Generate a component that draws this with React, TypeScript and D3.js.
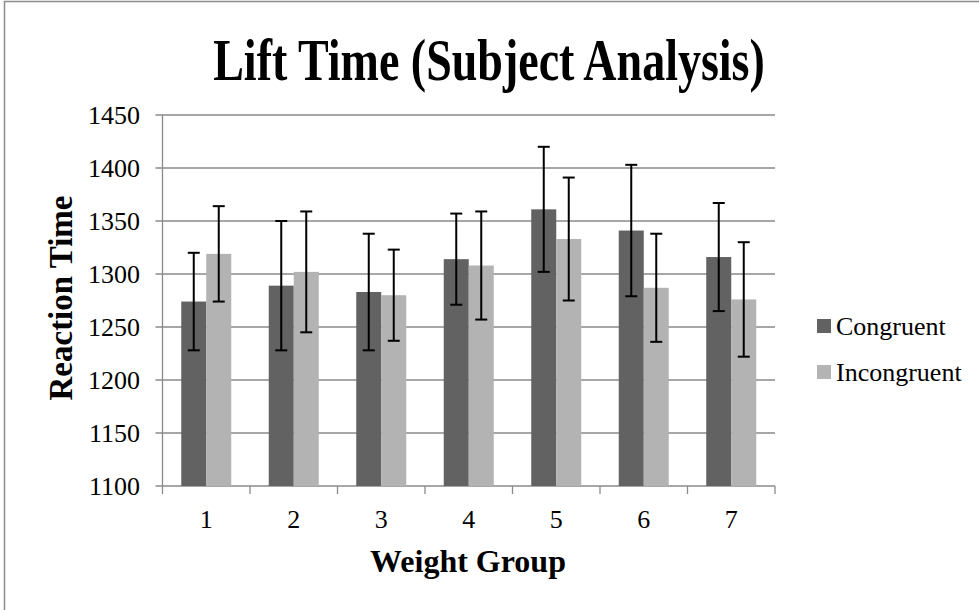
import React from "react";
import * as d3 from "d3";

const categories = ["1", "2", "3", "4", "5", "6", "7"];
const seriesNames = ["Congruent", "Incongruent"];
const congruent = [1274, 1289, 1283, 1314, 1361, 1341, 1316];
const incongruent = [1319, 1302, 1280, 1308, 1333, 1287, 1276];
const congruentErr = [46, 61, 55, 43, 59, 62, 51];
const incongruentErr = [45, 57, 43, 51, 58, 51, 54];
const yTicks = [1100, 1150, 1200, 1250, 1300, 1350, 1400, 1450];
const colors = ["#626262", "#b3b3b3"];

const W = 979;
const H = 610;
const M = { left: 162.5, right: 775, top: 115, bottom: 486 };
const FONT = "'Liberation Serif', 'Times New Roman', serif";
const GRID = "#8a8a8a";

export default function App() {
  const x0 = d3.scaleBand<string>().domain(categories).range([M.left, M.right]);
  const inner = d3
    .scaleBand<string>()
    .domain(seriesNames)
    .range([0, x0.bandwidth()])
    .paddingInner(0)
    .paddingOuter(0.75);
  const y = d3.scaleLinear().domain([1100, 1450]).range([M.bottom, M.top]);
  const values = [congruent, incongruent];
  const errs = [congruentErr, incongruentErr];
  const bw = inner.bandwidth();
  const tickEdges = categories.map((c) => x0(c)!).concat([M.right]);

  return (
    <svg width={W} height={H} style={{ display: "block", position: "absolute", left: 0, top: 0 }}>
      <rect x={0} y={0} width={W} height={H} fill="#ffffff" />
      <rect x={4.5} y={1.5} width={W + 20} height={H + 20} fill="none" stroke="#8c8c8c" strokeWidth={1.5} />
      <text
        transform="translate(489, 80) scale(0.78, 1)"
        textAnchor="middle"
        fontFamily={FONT}
        fontWeight="bold"
        fontSize={59}
      >
        Lift Time (Subject Analysis)
      </text>
      {yTicks.map((t) => (
        <g key={t}>
          <line x1={M.left - 7} x2={M.right} y1={y(t)} y2={y(t)} stroke={GRID} strokeWidth={1.3} />
          <text x={140} y={y(t)} dy="0.34em" textAnchor="end" fontFamily={FONT} fontSize={26}>
            {t}
          </text>
        </g>
      ))}
      <line x1={M.left} x2={M.left} y1={M.top} y2={M.bottom} stroke={GRID} strokeWidth={1.3} />
      {tickEdges.map((tx, i) => (
        <line key={i} x1={tx} x2={tx} y1={M.bottom} y2={M.bottom + 8} stroke={GRID} strokeWidth={1.3} />
      ))}
      {categories.map((c) => (
        <text key={c} x={x0(c)! + x0.bandwidth() / 2} y={528} textAnchor="middle" fontFamily={FONT} fontSize={26}>
          {c}
        </text>
      ))}
      {seriesNames.map((s, si) =>
        categories.map((c, ci) => (
          <rect
            key={s + c}
            x={x0(c)! + inner(s)!}
            y={y(values[si][ci])}
            width={bw}
            height={y(1100) - y(values[si][ci])}
            fill={colors[si]}
          />
        ))
      )}
      {seriesNames.map((s, si) =>
        categories.map((c, ci) => {
          const cx = x0(c)! + inner(s)! + bw / 2;
          const hi = y(values[si][ci] + errs[si][ci]);
          const lo = y(values[si][ci] - errs[si][ci]);
          return (
            <g key={"e" + s + c} stroke="#000" strokeWidth={2}>
              <line x1={cx} x2={cx} y1={hi} y2={lo} />
              <line x1={cx - 6} x2={cx + 6} y1={hi} y2={hi} />
              <line x1={cx - 6} x2={cx + 6} y1={lo} y2={lo} />
            </g>
          );
        })
      )}
      <text
        transform={`translate(72, 298) rotate(-90)`}
        textAnchor="middle"
        fontFamily={FONT}
        fontWeight="bold"
        fontSize={33}
      >
        Reaction Time
      </text>
      <text x={468} y={572} textAnchor="middle" fontFamily={FONT} fontWeight="bold" fontSize={32}>
        Weight Group
      </text>
      {seriesNames.map((s, si) => (
        <g key={s}>
          <rect x={817} y={319 + si * 46} width={14} height={14} fill={colors[si]} />
          <text x={836} y={335 + si * 46} fontFamily={FONT} fontSize={26}>
            {s}
          </text>
        </g>
      ))}
    </svg>
  );
}
